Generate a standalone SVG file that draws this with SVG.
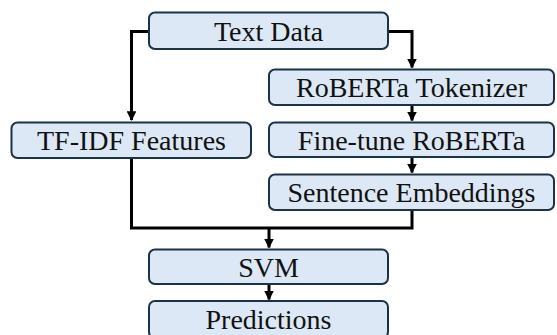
<svg xmlns="http://www.w3.org/2000/svg" width="557" height="335" viewBox="0 0 557 335">
<defs>
<style>
.box{fill:#dce8f5;stroke:#1b3344;stroke-width:2}
.lbl{font-family:"Liberation Serif","Times New Roman",serif;font-size:28px;fill:#111;text-anchor:middle}
.conn{fill:none;stroke:#000;stroke-width:3}
</style>
<marker id="ah" viewBox="0 0 10 10" refX="9" refY="5" markerWidth="3.2" markerHeight="3.2" orient="auto" markerUnits="strokeWidth">
<path d="M0,0 L10,5 L0,10 z" fill="#000"/>
</marker>
</defs>
<rect width="557" height="335" fill="#fff"/>
<g id="connectors">
<path class="conn" d="M149,31.5 H131.5 V120" marker-end="url(#ah)"/>
<path class="conn" d="M388,31.5 H412 V67.5" marker-end="url(#ah)"/>
<path class="conn" d="M412,105 V120.5" marker-end="url(#ah)"/>
<path class="conn" d="M412,157 V172.5" marker-end="url(#ah)"/>
<path class="conn" d="M131.5,158 V228 H412 V210"/>
<path class="conn" d="M269,228 V247.5" marker-end="url(#ah)"/>
<path class="conn" d="M269,284 V299.5" marker-end="url(#ah)"/>
</g>
<g id="text-data"><rect class="box" x="149" y="12.5" width="239" height="36.5" rx="6"/><text class="lbl" x="268.5" y="40.5">Text Data</text></g>
<g id="roberta-tokenizer"><rect class="box" x="269" y="69.5" width="285" height="35.5" rx="6"/><text class="lbl" x="411.5" y="97">RoBERTa Tokenizer</text></g>
<g id="tfidf"><rect class="box" x="11.5" y="122.5" width="239.5" height="35.5" rx="6"/><text class="lbl" x="131.5" y="150">TF-IDF Features</text></g>
<g id="fine-tune"><rect class="box" x="269" y="122.5" width="285" height="34.5" rx="6"/><text class="lbl" x="411.5" y="150">Fine-tune RoBERTa</text></g>
<g id="sentence-embeddings"><rect class="box" x="269" y="174.5" width="285" height="35.5" rx="6"/><text class="lbl" x="411.5" y="202">Sentence Embeddings</text></g>
<g id="svm"><rect class="box" x="149" y="249.5" width="239" height="34.5" rx="6"/><text class="lbl" x="268.5" y="277">SVM</text></g>
<g id="predictions"><rect class="box" x="149" y="301" width="239" height="37" rx="6"/><text class="lbl" x="268.5" y="329">Predictions</text></g>
</svg>
